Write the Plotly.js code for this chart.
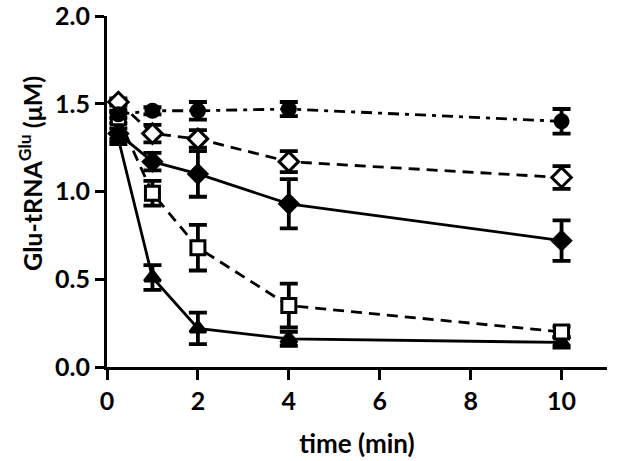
<!DOCTYPE html>
<html>
<head>
<meta charset="utf-8">
<script src="https://cdn.plot.ly/plotly-3.0.1.min.js"></script>
<style>html,body{margin:0;padding:0;background:#fff}#chart{width:644px;height:461px}</style>
</head>
<body>
<div id="chart"></div>
<script>
var time = [0.25, 1, 2, 4, 10];
var circleVals = [1.44, 1.46, 1.46, 1.47, 1.40];
var circleErr = [0.02, 0.02, 0.05, 0.04, 0.07];
var openDiamondVals = [1.51, 1.33, 1.30, 1.17, 1.08];
var openDiamondErr = [0.02, 0.05, 0.05, 0.06, 0.065];
var filledDiamondVals = [1.33, 1.17, 1.10, 0.93, 0.72];
var filledDiamondErr = [0.03, 0.05, 0.13, 0.14, 0.115];
var squareVals = [1.42, 0.99, 0.68, 0.35, 0.20];
var squareErr = [0.03, 0.07, 0.13, 0.125, 0.03];
var triangleVals = [1.30, 0.51, 0.22, 0.16, 0.14];
var triangleErr = [0.03, 0.07, 0.09, 0.04, 0.03];
var xTicks = [0, 2, 4, 6, 8, 10];
var yTicks = [0, 0.5, 1.0, 1.5, 2.0];

function series(y, err, symbol, size, dash, fill) {
  return {
    x: time, y: y, type: 'scatter', mode: 'lines+markers',
    line: {color: '#000', width: 2.8, dash: dash},
    marker: {symbol: symbol, size: size, color: fill, line: {color: '#000', width: 3}},
    error_y: {type: 'data', array: err, visible: true, color: '#000', thickness: 3.8, width: 9},
    showlegend: false, cliponaxis: false
  };
}

var data = [
  series(triangleVals, triangleErr, 'triangle-up', 14, 'solid', '#000'),
  series(filledDiamondVals, filledDiamondErr, 'diamond', 14, 'solid', '#000'),
  series(squareVals, squareErr, 'square', 14, '11px,7px', '#fff'),
  series(openDiamondVals, openDiamondErr, 'diamond', 15, '11px,7px', '#fff'),
  series(circleVals, circleErr, 'circle', 13, '11px,6px,4px,6px', '#000')
];

var tickFont = {family: 'Lato, "Open Sans", sans-serif', size: 25, color: '#000', weight: 'bold'};
var titleFont = {family: 'Lato, "Open Sans", sans-serif', size: 26, color: '#000', weight: 'bold'};

var layout = {
  width: 644, height: 461,
  margin: {l: 107, r: 37, t: 16, b: 94},
  paper_bgcolor: '#fff', plot_bgcolor: '#fff',
  xaxis: {
    range: [0, 11], tickvals: xTicks, ticktext: xTicks.map(String),
    showline: true, linecolor: '#000', linewidth: 3,
    ticks: 'outside', ticklen: 10, tickwidth: 3, tickcolor: '#000',
    showgrid: false, zeroline: false, tickfont: tickFont, ticklabeloverflow: 'allow',
    title: {text: 'time (min)', font: titleFont, standoff: 21}
  },
  yaxis: {
    range: [0, 2], tickvals: yTicks, ticktext: yTicks.map(function(v){return v.toFixed(1);}),
    showline: true, linecolor: '#000', linewidth: 3,
    ticks: 'outside', ticklen: 9, tickwidth: 3, tickcolor: '#000',
    showgrid: false, zeroline: false, tickfont: tickFont, ticklabeloverflow: 'allow'
  },
  annotations: [{
    xref: 'paper', yref: 'paper', x: -0.152, y: 0.55,
    text: 'Glu-tRNA<sup>Glu</sup> (μM)', textangle: -90, showarrow: false,
    xanchor: 'center', yanchor: 'middle',
    font: {family: 'Lato, "Open Sans", sans-serif', size: 25, color: '#000', weight: 'bold'}
  }]
};

Plotly.newPlot('chart', data, layout, {staticPlot: true, displayModeBar: false});
</script>
</body>
</html>
